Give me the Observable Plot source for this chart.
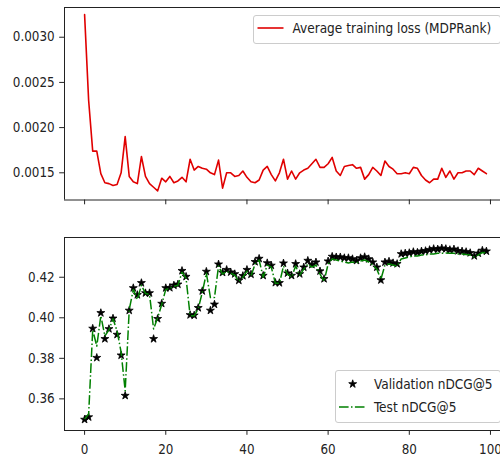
<!DOCTYPE html>
<html><head><meta charset="utf-8">
<script src="https://cdn.jsdelivr.net/npm/d3@7"></script>
<script src="https://cdn.jsdelivr.net/npm/@observablehq/plot@0.6"></script>
<style>
body{margin:0;background:#fff;}
#wrap{position:relative;width:500px;height:459px;overflow:hidden;font-family:"DejaVu Sans Condensed","DejaVu Sans",sans-serif;font-stretch:condensed;}
#wrap svg{display:block;}
.leg{position:absolute;background:rgba(255,255,255,0.8);border:1px solid #cccccc;border-radius:3px;box-sizing:border-box;}
.lt{position:absolute;font-size:13.5px;color:#222;white-space:nowrap;line-height:16px;}
.lh{position:absolute;overflow:visible;}
</style></head>
<body><div id="wrap"><div id="topc"></div><div id="botc"></div></div>
<script>
// ---- data ----
const lossValues = [
0.00325,0.00230,0.00174,0.00174,0.00149,0.00139,0.00138,0.00136,0.00137,0.00150,
0.00190,0.00146,0.00140,0.00138,0.00168,0.00146,0.00138,0.00134,0.00130,0.00144,
0.00140,0.00146,0.00139,0.00141,0.00145,0.00140,0.00165,0.00153,0.00157,0.00155,
0.00154,0.00150,0.00148,0.00164,0.00133,0.00150,0.00150,0.00146,0.00147,0.00152,
0.00145,0.00140,0.00139,0.00142,0.00153,0.00157,0.00148,0.00141,0.00150,0.00165,
0.00143,0.00152,0.00143,0.00150,0.00153,0.00155,0.00160,0.00165,0.00156,0.00156,
0.00160,0.00167,0.00152,0.00147,0.00157,0.00158,0.00159,0.00155,0.00156,0.00143,
0.00148,0.00156,0.00152,0.00147,0.00163,0.00157,0.00154,0.00149,0.00149,0.00150,
0.00149,0.00156,0.00155,0.00147,0.00142,0.00139,0.00143,0.00143,0.00155,0.00145,
0.00152,0.00143,0.00150,0.00150,0.00152,0.00152,0.00148,0.00155,0.00152,0.00149];

const validationNdcg = [
0.3498,0.3510,0.3947,0.3803,0.4024,0.3896,0.3945,0.3997,0.3917,0.3815,
0.3616,0.4036,0.4147,0.4113,0.4172,0.4122,0.4122,0.3896,0.3995,0.4070,
0.4147,0.4148,0.4160,0.4165,0.4232,0.4203,0.4014,0.4012,0.4049,0.4132,
0.4228,0.4036,0.4066,0.4264,0.4223,0.4237,0.4225,0.4216,0.4184,0.4207,
0.4237,0.4214,0.4276,0.4292,0.4208,0.4270,0.4258,0.4173,0.4172,0.4269,
0.4220,0.4208,0.4266,0.4216,0.4249,0.4282,0.4262,0.4274,0.4230,0.4192,
0.4279,0.4302,0.4299,0.4299,0.4295,0.4295,0.4290,0.4282,0.4295,0.4300,
0.4290,0.4274,0.4249,0.4186,0.4274,0.4278,0.4270,0.4266,0.4315,0.4318,
0.4320,0.4325,0.4322,0.4328,0.4330,0.4335,0.4340,0.4338,0.4343,0.4340,
0.4335,0.4338,0.4330,0.4328,0.4325,0.4320,0.4305,0.4318,0.4332,0.4328];

const testNdcg = [
0.3500,0.3525,0.3940,0.3860,0.4010,0.3910,0.3940,0.3995,0.3935,0.3830,
0.3640,0.4040,0.4140,0.4090,0.4160,0.4120,0.4115,0.3945,0.4000,0.4065,
0.4140,0.4145,0.4155,0.4160,0.4225,0.4195,0.4010,0.4010,0.4045,0.4125,
0.4220,0.4100,0.4100,0.4255,0.4215,0.4230,0.4220,0.4210,0.4180,0.4200,
0.4230,0.4205,0.4265,0.4285,0.4200,0.4260,0.4250,0.4170,0.4170,0.4255,
0.4215,0.4200,0.4255,0.4210,0.4240,0.4265,0.4250,0.4260,0.4215,0.4180,
0.4265,0.4290,0.4285,0.4280,0.4275,0.4270,0.4275,0.4270,0.4280,0.4285,
0.4275,0.4260,0.4240,0.4190,0.4260,0.4265,0.4260,0.4255,0.4290,0.4295,
0.4300,0.4305,0.4305,0.4310,0.4310,0.4315,0.4315,0.4318,0.4318,0.4320,
0.4318,0.4318,0.4315,0.4315,0.4312,0.4310,0.4300,0.4310,0.4322,0.4320];

const epochTicks = [0,20,40,60,80,100];
const lossTicks = [0.0015,0.0020,0.0025,0.0030];
const ndcgTicks = [0.36,0.38,0.40,0.42];
const lossLabel = "Average training loss (MDPRank)";
const valLabel = "Validation nDCG@5";
const testLabel = "Test nDCG@5";

// ---- tables ----
const lossData = lossValues.map((v,i)=>({epoch:i, loss:v}));
const ndcgData = validationNdcg.map((v,i)=>({epoch:i, val:v, test:testNdcg[i]}));

const xDomain = [-4.95, 102.47];
const yTop = [0.001199, 0.003329];
const yBot = [0.3444, 0.4396];
const FONT = '"DejaVu Sans Condensed","DejaVu Sans",sans-serif';
const style = {fontFamily:FONT, fontSize:"13.3px", color:"#222", background:"transparent", fontStretch:"condensed"};
const frameColor = "#222";

const topPlot = Plot.plot({
  width:500, height:230, marginLeft:64, marginRight:0, marginTop:7, marginBottom:30.5,
  style,
  x:{domain:xDomain},
  y:{domain:yTop},
  marks:[
    Plot.axisY({ticks:lossTicks, tickFormat:d3.format(".4f"), tickSize:4.8, tickPadding:5, label:null}),
    Plot.axisX({ticks:epochTicks, tickFormat:()=>"", tickSize:4.8, label:null}),
    Plot.line(lossData,{x:"epoch", y:"loss", stroke:"#e00000", strokeWidth:1.6}),
    Plot.ruleY(yTop,{stroke:frameColor, strokeWidth:1}),
    Plot.ruleX([xDomain[0]],{stroke:frameColor, strokeWidth:1})
  ]
});

const botPlot = Plot.plot({
  width:500, height:229, marginLeft:64, marginRight:0, marginTop:7, marginBottom:29,
  style,
  x:{domain:xDomain},
  y:{domain:yBot},
  marks:[
    Plot.axisY({ticks:ndcgTicks, tickFormat:d3.format(".2f"), tickSize:4.8, tickPadding:5, label:null}),
    Plot.axisX({ticks:epochTicks, tickFormat:d3.format("d"), tickSize:4.8, tickPadding:9.5, label:null}),
    Plot.dot(ndcgData,{x:"epoch", y:"val", symbol:"star", r:2.5, fill:"black", stroke:"black", strokeWidth:0.8}),
    Plot.line(ndcgData,{x:"epoch", y:"test", stroke:"green", strokeWidth:1.5, strokeDasharray:"9.6,2.4,1.5,2.4", strokeLinecap:"butt"}),
    Plot.ruleY(yBot,{stroke:frameColor, strokeWidth:1}),
    Plot.ruleX([xDomain[0]],{stroke:frameColor, strokeWidth:1})
  ]
});

document.getElementById("topc").appendChild(topPlot);
document.getElementById("botc").appendChild(botPlot);

// ---- legends ----
const wrap = document.getElementById("wrap");
function el(tag, cls, css){ const e=document.createElement(tag); if(cls) e.className=cls; Object.assign(e.style, css); return e; }

// top legend
const lg1 = el("div","leg",{left:"252.5px", top:"15px", width:"248px", height:"28.5px"});
lg1.innerHTML = `<svg class="lh" width="30" height="10" style="left:3.5px;top:6.5px"><line x1="0.5" y1="5" x2="26.5" y2="5" stroke="#e00000" stroke-width="1.6"/></svg>`;
const t1 = el("div","lt",{left:"39px", top:"3.5px"}); t1.textContent = lossLabel; lg1.appendChild(t1);
wrap.appendChild(lg1);

// bottom legend
const starPath = d3.symbol(d3.symbolStar, Math.PI*2.5*2.5)();
const lg2 = el("div","leg",{left:"335px", top:"370px", width:"166px", height:"53px"});
lg2.innerHTML = `<svg class="lh" width="30" height="14" style="left:2px;top:6px"><path d="${starPath}" transform="translate(14.7,7)" fill="black" stroke="black" stroke-width="0.8"/></svg>
<svg class="lh" width="30" height="10" style="left:2px;top:30.7px"><line x1="1" y1="5" x2="27" y2="5" stroke="green" stroke-width="1.5" stroke-dasharray="9.6,2.4,1.5,2.4"/></svg>`;
const t2 = el("div","lt",{left:"38px", top:"4.5px"}); t2.textContent = valLabel; lg2.appendChild(t2);
const t3 = el("div","lt",{left:"38px", top:"28px"}); t3.textContent = testLabel; lg2.appendChild(t3);
wrap.appendChild(lg2);
</script>
</body></html>
